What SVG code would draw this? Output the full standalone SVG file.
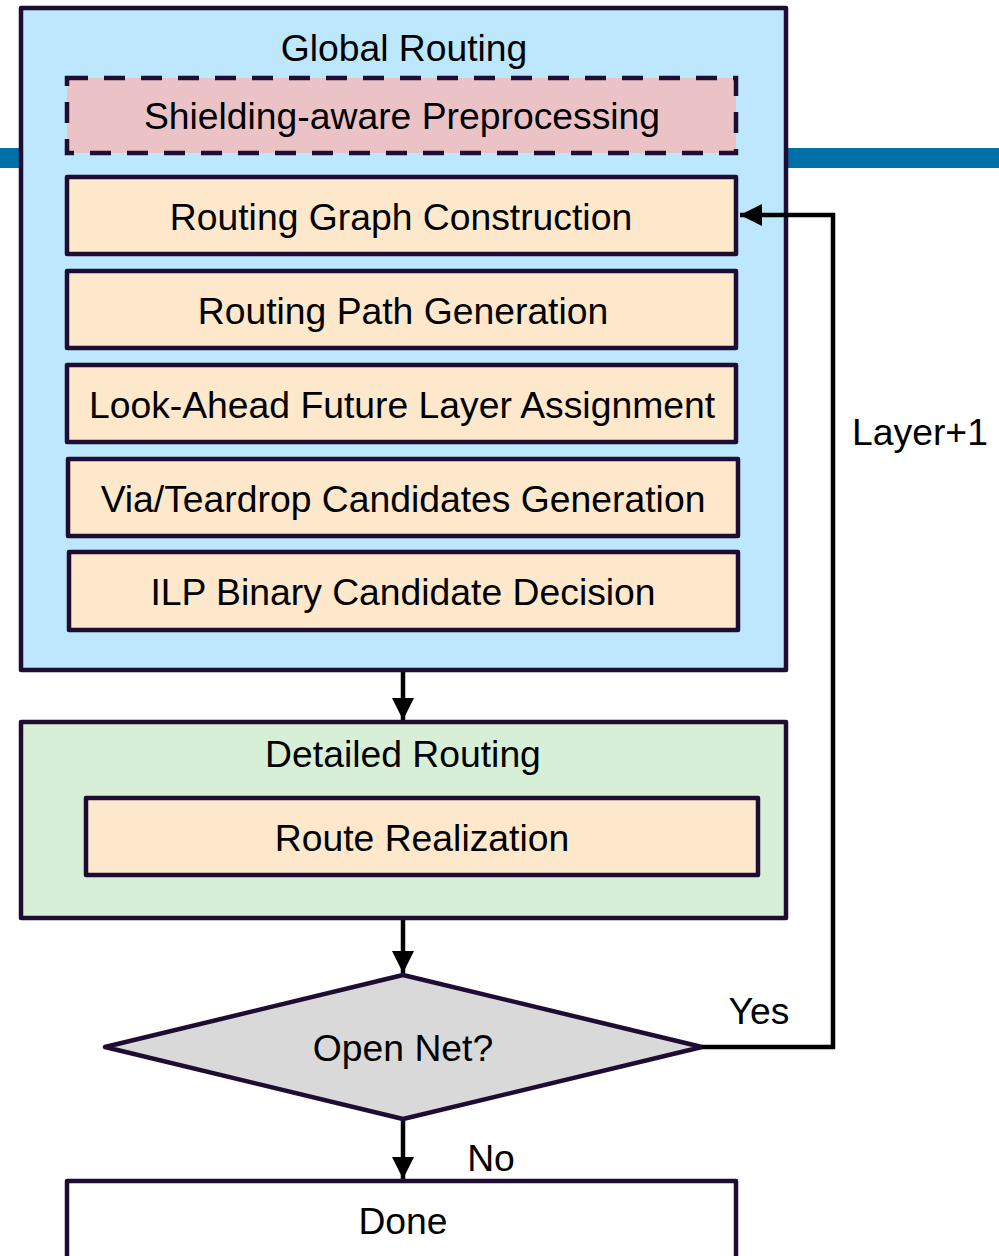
<svg xmlns="http://www.w3.org/2000/svg" width="999" height="1256" viewBox="0 0 999 1256">
<defs>
<style>
.box{stroke:#1F0C33;stroke-width:4.5;stroke-linejoin:round}
.step{fill:#FDE8CB}
.t{font-family:"Liberation Sans",Arial,sans-serif;font-size:37.3px;fill:#000;text-anchor:middle}
.c{fill:none;stroke:#000;stroke-width:4.5}
</style>
<marker id="ah" markerUnits="userSpaceOnUse" markerWidth="24" markerHeight="22" refX="22" refY="11" orient="auto">
<path d="M0,0 L22,11 L0,22 z" fill="#000"/>
</marker>
</defs>
<rect x="0" y="148" width="999" height="20" fill="#0070A8"/>
<g id="global">
<rect class="box" x="21" y="8" width="765" height="662" fill="#BDE7FD"/>
<text class="t" x="404" y="61">Global Routing</text>
</g>
<g id="shield">
<rect x="67" y="78" width="669" height="75" fill="#EBC3C6" stroke="#1F0C33" stroke-width="4.5" stroke-dasharray="21,16"/>
<text class="t" x="402" y="129">Shielding-aware Preprocessing</text>
</g>
<g id="graph">
<rect class="box step" x="67" y="177" width="669" height="77"/>
<text class="t" x="401" y="230">Routing Graph Construction</text>
</g>
<g id="path">
<rect class="box step" x="67" y="271" width="669" height="77"/>
<text class="t" x="403" y="324">Routing Path Generation</text>
</g>
<g id="lookahead">
<rect class="box step" x="67" y="365" width="669" height="77"/>
<text class="t" x="402" y="418">Look-Ahead Future Layer Assignment</text>
</g>
<g id="via">
<rect class="box step" x="68" y="459" width="670" height="77"/>
<text class="t" x="403" y="512">Via/Teardrop Candidates Generation</text>
</g>
<g id="ilp">
<rect class="box step" x="69" y="552" width="669" height="78"/>
<text class="t" x="403" y="605">ILP Binary Candidate Decision</text>
</g>
<g id="detailed">
<rect class="box" x="21" y="722" width="765" height="196" fill="#D8EFD7"/>
<text class="t" x="403" y="767">Detailed Routing</text>
</g>
<g id="realize">
<rect class="box step" x="86" y="798" width="672" height="77"/>
<text class="t" x="422" y="851">Route Realization</text>
</g>
<g id="open">
<polygon class="box" points="105,1047 403,975 702,1047 403,1119" fill="#D9D9D9"/>
<text class="t" x="403" y="1061">Open Net?</text>
</g>
<g id="done">
<rect class="box" x="67" y="1181" width="669" height="80" fill="#FFFFFF"/>
<text class="t" x="403" y="1234">Done</text>
</g>
<g id="connectors">
<line class="c" x1="403" y1="672" x2="403" y2="720" marker-end="url(#ah)"/>
<line class="c" x1="403" y1="920" x2="403" y2="973" marker-end="url(#ah)"/>
<line class="c" x1="403" y1="1121" x2="403" y2="1179" marker-end="url(#ah)"/>
<polyline class="c" points="702,1047 833,1047 833,215 740,215" marker-end="url(#ah)"/>
<text class="t" x="759" y="1024">Yes</text>
<text class="t" x="920" y="445">Layer+1</text>
<text class="t" x="491" y="1171">No</text>
</g>
</svg>
